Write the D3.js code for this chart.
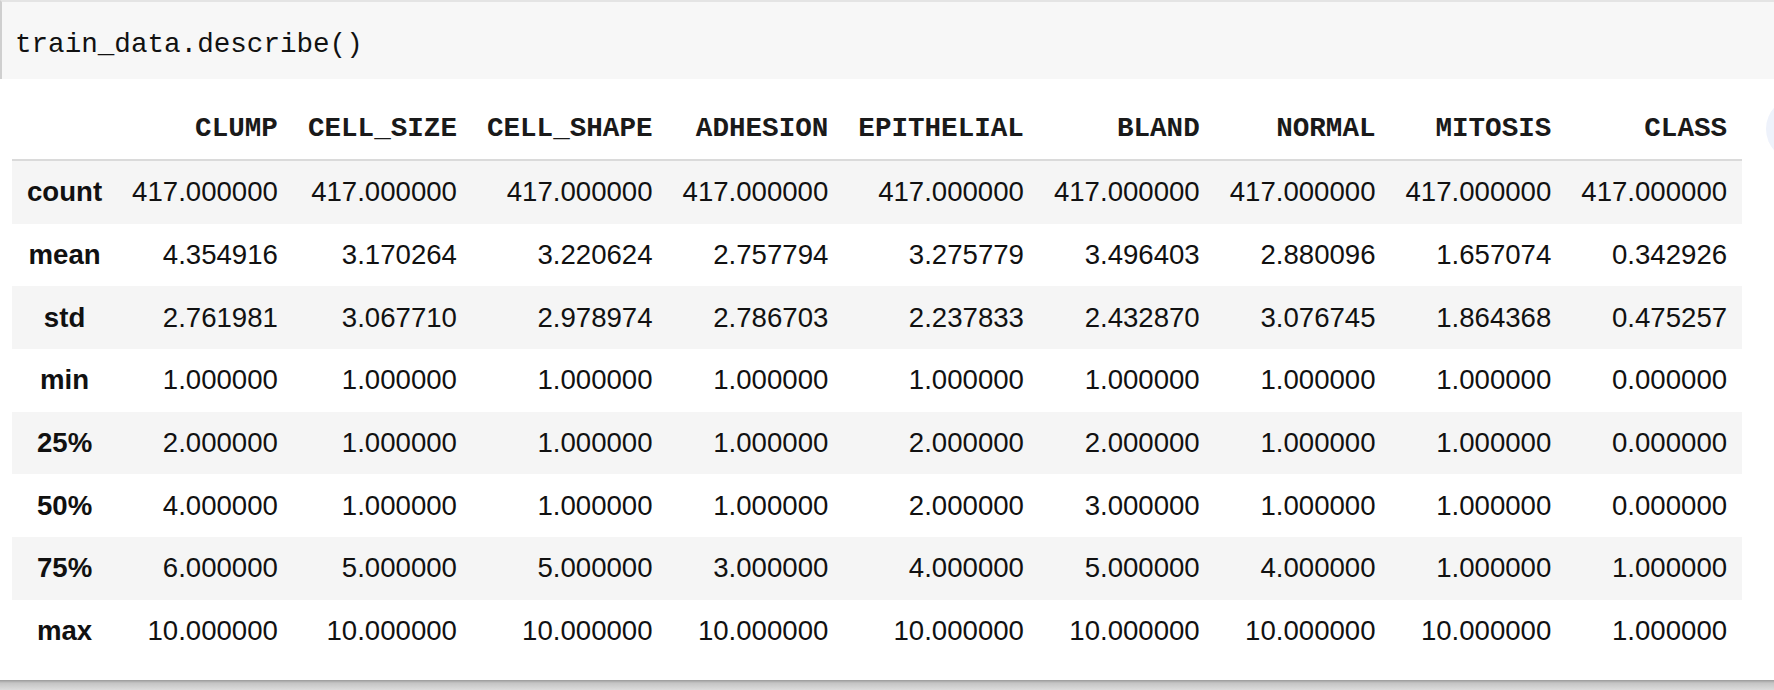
<!doctype html>
<html lang="en">
<head>
	<meta charset="UTF-8">
	<title>train_data.describe()</title>
	<script src="https://cdn.jsdelivr.net/npm/d3@7"></script>
	<style type="text/css">
	body{
		margin: 0;
		width: 1774px;
		height: 690px;
		background: #fff;
		overflow: hidden;
		position: relative;
	}
	.code{
		position: absolute;
		left: 0; top: 0;
		width: 1772px; height: 77px;
		background: #f7f7f7;
		border-top: 2px solid #e4e4e4;
		border-left: 2px solid #cfcfcf;
	}
	.code span{
		position: absolute;
		left: 13px; top: 27px;
		font-family: "Liberation Mono", monospace;
		font-size: 27.6px;
		color: #111;
	}
	table{
		position: absolute;
		left: 12px; top: 98px;
		border-collapse: collapse;
		font-family: "Liberation Sans", Arial, sans-serif;
		font-size: 27.6px;
		color: #111;
	}
	th, td{
		padding: 0 15px;
		height: 62.7px;
		vertical-align: middle;
		text-align: right;
		white-space: nowrap;
	}
	thead tr{ border-bottom: 2px solid #dadada; }
	thead th{
		font-family: "Liberation Mono", monospace;
		font-weight: bold;
		height: 61px;
		color: #1a1a1a;
	}
	tbody th{ text-align: center; font-weight: bold; }
	tbody tr:nth-child(odd){ background: #f5f5f5; }
	.shadow{
		position: absolute;
		left: 0; top: 680px;
		width: 1774px; height: 10px;
		background: linear-gradient(#9a9a9a, #c4c4c4 30%, #dcdcdc);
	}
	.dot{
		position: absolute;
		left: 1766px; top: 97px;
		width: 64px; height: 64px;
		border-radius: 50%;
		background: #eef2fb;
	}
	</style>
</head>
<body>
	<script type="text/javascript">
		// describe() output
		var columns = ['CLUMP', 'CELL_SIZE', 'CELL_SHAPE', 'ADHESION', 'EPITHELIAL', 'BLAND', 'NORMAL', 'MITOSIS', 'CLASS'];
		var stats = ['count', 'mean', 'std', 'min', '25%', '50%', '75%', 'max'];
		var countRow = [417, 417, 417, 417, 417, 417, 417, 417, 417];
		var meanRow = [4.354916, 3.170264, 3.220624, 2.757794, 3.275779, 3.496403, 2.880096, 1.657074, 0.342926];
		var stdRow = [2.761981, 3.067710, 2.978974, 2.786703, 2.237833, 2.432870, 3.076745, 1.864368, 0.475257];
		var minRow = [1, 1, 1, 1, 1, 1, 1, 1, 0];
		var q25Row = [2, 1, 1, 1, 2, 2, 1, 1, 0];
		var q50Row = [4, 1, 1, 1, 2, 3, 1, 1, 0];
		var q75Row = [6, 5, 5, 3, 4, 5, 4, 1, 1];
		var maxRow = [10, 10, 10, 10, 10, 10, 10, 10, 1];

		var rows = [countRow, meanRow, stdRow, minRow, q25Row, q50Row, q75Row, maxRow];
		var fmt = d3.format('.6f');
		var body = d3.select('body');

		body.append('div').attr('class', 'code')
			.append('span').text('train_data.describe()');

		var table = body.append('table');
		table.append('thead').append('tr')
			.selectAll('th')
			.data([''].concat(columns))
			.enter()
			.append('th')
			.text(function(d){ return d; });

		var tr = table.append('tbody')
			.selectAll('tr')
			.data(rows)
			.enter()
			.append('tr');
		tr.append('th').text(function(d, i){ return stats[i]; });
		tr.selectAll('td')
			.data(function(d){ return d; })
			.enter()
			.append('td')
			.text(function(d){ return fmt(d); });

		body.append('div').attr('class', 'dot');
		body.append('div').attr('class', 'shadow');
	</script>
</body>
</html>
